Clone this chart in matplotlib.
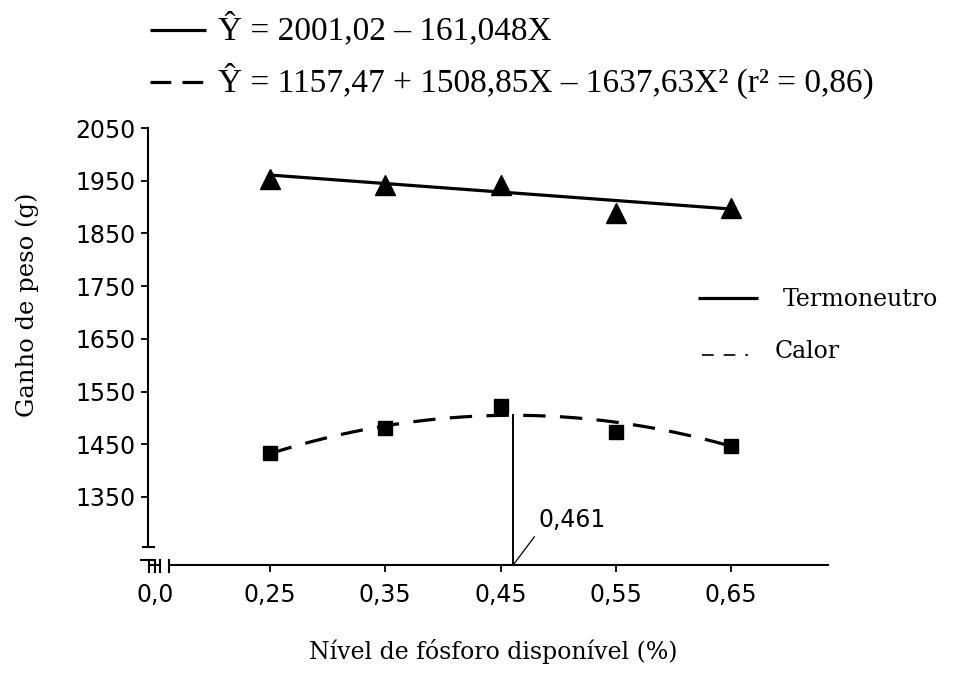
import numpy as np
import matplotlib.pyplot as plt
from matplotlib.lines import Line2D

# Níveis de fósforo disponível (%) e ganho de peso médio (g)
fosforo = [0.25, 0.35, 0.45, 0.55, 0.65]
ganho_termoneutro = [1953, 1941, 1942, 1889, 1898]
ganho_calor = [1433, 1480, 1523, 1473, 1447]

# Coeficientes das equações de regressão (a, b, c)
coef_termoneutro = [2001.02, -161.048]
coef_calor = [1157.47, 1508.85, -1637.63]
x_maximo = 0.461

y_ticks = [1350, 1450, 1550, 1650, 1750, 1850, 1950, 2050]
x_ticks = [0.15, 0.25, 0.35, 0.45, 0.55, 0.65]
x_tick_labels = ["0,0", "0,25", "0,35", "0,45", "0,55", "0,65"]

W, H = 954, 673
fig = plt.figure(figsize=(W / 100, H / 100), dpi=100)
ax = fig.add_axes([148 / W, 1 - 565 / H, 680 / W, 437 / H])

xmin, xmax = 0.1441, 0.7342
ymin, ymax = 1221, 2050
ax.set_xlim(xmin, xmax)
ax.set_ylim(ymin, ymax)


def fig_line(x0, y0, x1, y1, **kw):
    # linha em pixels da figura (origem no canto superior esquerdo)
    ln = Line2D([x0 / W, x1 / W], [1 - y0 / H, 1 - y1 / H],
                transform=fig.transFigure, color="black", **kw)
    fig.add_artist(ln)
    return ln


def fig_text(x, y, s, **kw):
    return fig.text(x / W, 1 - y / H, s, **kw)


# curvas ajustadas
xs = np.linspace(fosforo[0], fosforo[-1], 200)
y_lin = np.polyval(coef_termoneutro[::-1], xs)
y_quad = np.polyval(coef_calor[::-1], xs)

ax.plot(xs, y_lin, color="black", lw=2.3, solid_capstyle="butt")
ax.plot(xs, y_quad, color="black", lw=2.3, dashes=(7, 4.5))
ax.plot(fosforo, ganho_termoneutro, "^", color="black", ms=14, ls="none")
ax.plot(fosforo, ganho_calor, "s", color="black", ms=10.5, ls="none")

# ponto de máximo da quadrática
y_max_calor = np.polyval(coef_calor[::-1], x_maximo)
ax.plot([x_maximo, x_maximo], [ymin, y_max_calor], color="black", lw=1.4)
ax.annotate("0,461", xy=(x_maximo, ymin), xytext=(18, 24), textcoords="offset points",
            fontsize=17, family="DejaVu Sans", ha="left", va="bottom",
            arrowprops=dict(arrowstyle="-", lw=0.9, color="black",
                            relpos=(0, 0), shrinkA=2, shrinkB=0))

# eixos com quebra
for s in ["top", "right"]:
    ax.spines[s].set_visible(False)
ax.spines["left"].set_bounds(1255, ymax)
ax.spines["bottom"].set_bounds(0.163, xmax)
for s in ["left", "bottom"]:
    ax.spines[s].set_linewidth(1.5)

ax.set_yticks(y_ticks)
ax.set_yticklabels([str(v) for v in y_ticks])
ax.set_xticks(x_ticks)
ax.set_xticklabels(x_tick_labels)
ax.xaxis.get_major_ticks()[0].tick1line.set_visible(False)
ax.tick_params(axis="both", direction="out", length=5, width=1.3, labelsize=17)
ax.tick_params(axis="x", pad=8)
ax.tick_params(axis="y", pad=4)
for lab in ax.get_xticklabels() + ax.get_yticklabels():
    lab.set_family("DejaVu Sans")

fig_line(143, 547, 154, 547, lw=1.5)
fig_line(141, 560, 154, 560, lw=1.5)
fig_line(149, 560, 149, 572, lw=1.5)
fig_line(149, 565, 160, 565, lw=1.5)
fig_line(155, 560, 155, 572, lw=1.5)
fig_line(160, 560, 160, 572, lw=1.5)
fig_line(169, 560, 169, 572, lw=1.5)

# rótulos dos eixos
fig_text(493, 652, "Nível de fósforo disponível (%)", family="DejaVu Serif",
         fontsize=17, ha="center", va="center")
fig_text(27, 305, "Ganho de peso (g)", family="DejaVu Serif", fontsize=17.5,
         rotation=90, ha="center", va="center")

# equações
fig_line(150, 30, 206, 30, lw=2.3, solid_capstyle="butt")
fig_text(218, 29, "Ŷ = 2001,02 – 161,048X", family="Liberation Serif",
         fontsize=24, ha="left", va="center")
fig_line(150, 82, 206, 82, lw=2.3, dashes=(6.5, 3.5))
fig_text(218, 81, "Ŷ = 1157,47 + 1508,85X – 1637,63X² (r² = 0,86)",
         family="Liberation Serif", fontsize=24, ha="left", va="center")

# legenda lateral
fig_line(698, 298, 758, 298, lw=2.3, solid_capstyle="butt")
fig_text(783, 300, "Termoneutro", family="DejaVu Serif", fontsize=17,
         ha="left", va="center")
fig_line(702, 355, 748, 355, lw=1.2, dashes=(7, 6))
fig_text(775, 352, "Calor", family="DejaVu Serif", fontsize=17,
         ha="left", va="center")

fig.savefig("out.png", dpi=100)
